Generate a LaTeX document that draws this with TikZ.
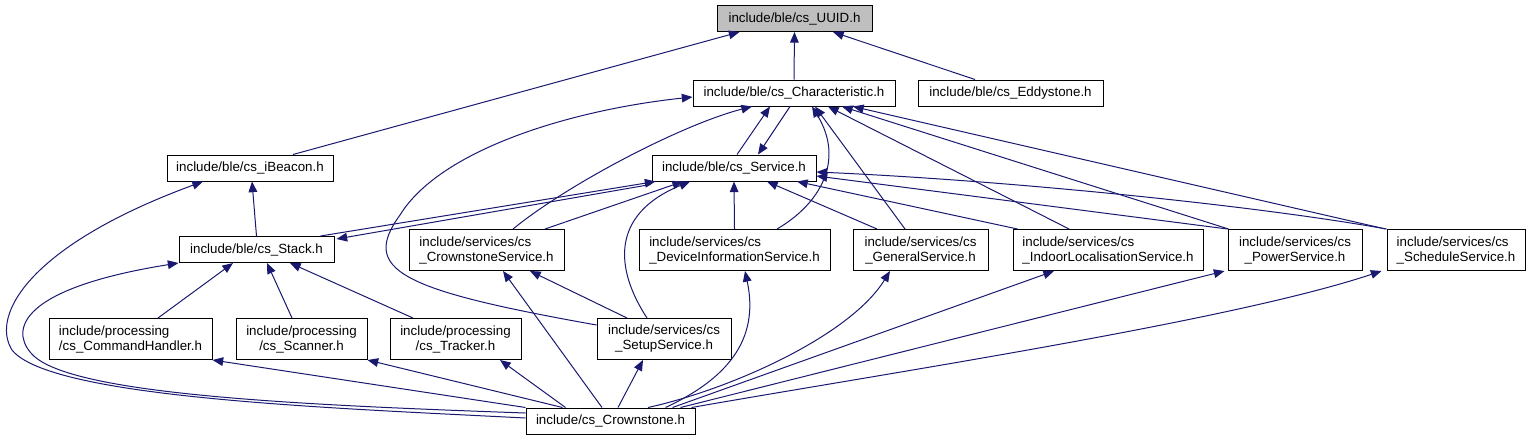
\documentclass[tikz,border=0pt]{standalone}
\usepackage{fontspec}
\setmainfont{Liberation Sans}
\usetikzlibrary{arrows.meta,calc}
\definecolor{incblue}{HTML}{191970}
\definecolor{rootgrey}{HTML}{BFBFBF}

\begin{document}
\begin{tikzpicture}[
  x=0.75pt, y=-0.75pt,
  font=\fontsize{10}{11.25}\selectfont,
  file/.style={draw=black, line width=0.75pt, fill=white, inner sep=0pt, minimum height=19.5pt, minimum width=#1*0.75pt, align=center},
  file2/.style={file=#1, minimum height=30.75pt},
  inc/.style={-{Triangle[length=8pt,width=6.5pt]}, line width=0.75pt, color=incblue},
]
\useasboundingbox (0,0) rectangle (1531,440);
\node[file=155, fill=rootgrey] (uuid) at (794.5,18.5) {include/ble/cs\_UUID.h};
\node[file=202] (charac) at (794,93) {include/ble/cs\_Characteristic.h};
\node[file=185] (eddy) at (1010.5,93) {include/ble/cs\_Eddystone.h};
\node[file=166] (ibeacon) at (250,168) {include/ble/cs\_iBeacon.h};
\node[file=164] (service) at (734,168) {include/ble/cs\_Service.h};
\node[file=155] (stack) at (256.5,249.5) {include/ble/cs\_Stack.h};
\node[file2=155, align=left] (crownsvc) at (486.5,250) {include/services/cs\\\_CrownstoneService.h};
\node[file2=191, align=left] (devinfo) at (734.5,250) {include/services/cs\\\_DeviceInformationService.h};
\node[file2=135] (general) at (920.5,250) {include/services/cs\\\_GeneralService.h};
\node[file2=190, align=left] (indoor) at (1108,250) {include/services/cs\\\_IndoorLocalisationService.h};
\node[file2=134] (power) at (1295,250) {include/services/cs\\\_PowerService.h};
\node[file2=138, align=left] (schedule) at (1456,250) {include/services/cs\\\_ScheduleService.h};
\node[file2=163, align=left] (cmdh) at (130.5,339) {include/processing\\/cs\_CommandHandler.h};
\node[file2=131] (scanner) at (301.5,339) {include/processing\\/cs\_Scanner.h};
\node[file2=131] (tracker) at (455.5,339) {include/processing\\/cs\_Tracker.h};
\node[file2=134] (setup) at (664,339) {include/services/cs\\\_SetupService.h};
\node[file=169] (crown) at (610.5,421) {include/cs\_Crownstone.h};
\draw[inc] (charac.north) -- (uuid.south);
\draw[inc] ($(ibeacon.north)+(43,0)$) -- ($(uuid.south)+(-55,0)$);
\draw[inc] ($(eddy.north)+(-35.5,0)$) -- ($(uuid.south)+(38.5,0)$);
\draw[inc] ($(service.north)+(3,0)$) -- ($(charac.south)+(-24,0)$);
\draw[inc] ($(charac.south)+(-4,0)$) -- ($(service.north)+(24,0)$);
\draw[inc] ($(crownsvc.north)+(26.5,0)$) .. controls +(55,-45) and +(-70,18) .. ($(charac.south)+(-42,0)$);
\draw[inc] ($(devinfo.north)+(42.5,0)$) .. controls +(43,-25) and +(33,54) .. ($(charac.south)+(18,0)$);
\draw[inc] ($(general.north)+(-15.5,0)$) -- ($(charac.south)+(21,0)$);
\draw[inc] ($(indoor.north)+(-39,0)$) -- ($(charac.south)+(34,0)$);
\draw[inc] ($(power.north west)+(1,0)$) -- ($(charac.south)+(48,0)$);
\draw[inc] ($(schedule.north west)+(-1,0)$) -- ($(charac.south)+(59,0)$);
\draw[inc] ($(setup.west)+(0,-14)$) .. controls (400,290) and (360,270) .. (400,215) .. controls (440,150) and (570,110) .. ($(charac.west)+(0,4)$);
\draw[inc] ($(stack.north east)+(-14,0)$) -- ($(service.south west)+(4,0)$);
\draw[inc] ($(service.south west)+(-1,3)$) -- ($(stack.north east)+(2,3)$);
\draw[inc] ($(crownsvc.north)+(58.5,0)$) -- ($(service.south)+(-51,0)$);
\draw[inc] ($(setup.north)+(-17,0)$) .. controls +(-32,-49) and +(-80,33) .. ($(service.south)+(-44,0)$);
\draw[inc] (devinfo.north) -- (service.south);
\draw[inc] ($(general.north)+(-43.5,0)$) -- ($(service.south)+(33,0)$);
\draw[inc] ($(indoor.north west)+(5,0)$) -- ($(service.south)+(63,0)$);
\draw[inc] (power.north west) -- ($(service.east)+(0,8)$);
\draw[inc] (schedule.north west) .. controls +(-137,-24.5) and +(183,8) .. ($(service.east)+(0,4)$);
\draw[inc] ($(setup.north)+(-37,0)$) -- ($(crownsvc.south)+(43.5,0)$);
\draw[inc] (stack.north) -- ($(ibeacon.south)+(2,0)$);
\draw[inc] ($(cmdh.north)+(27.5,0)$) -- ($(stack.south)+(-23.5,0)$);
\draw[inc] ($(scanner.north)+(-9.5,0)$) -- ($(stack.south)+(10.5,0)$);
\draw[inc] ($(tracker.north)+(-42.5,0)$) -- ($(stack.south)+(33.5,0)$);
\draw[inc] ($(crown.west)+(0,-8)$) .. controls (300,405) and (80,395) .. (35,357) .. controls (10,335) and (10,290) .. (stack.south west);
\draw[inc] ($(crown.west)+(0,-3)$) .. controls (330,408) and (50,398) .. (12,350) .. controls (-10,315) and (30,245) .. ($(ibeacon.south)+(-47,0)$);
\draw[inc] (crown.north west) -- (cmdh.south east);
\draw[inc] ($(crown.north)+(-48,0)$) -- (scanner.south east);
\draw[inc] ($(crown.north)+(-45,0)$) -- ($(tracker.south)+(44.5,0)$);
\draw[inc] ($(crown.north)+(-8.5,0)$) -- ($(crownsvc.south)+(16.5,0)$);
\draw[inc] ($(crown.north)+(7.5,0)$) -- ($(setup.south)+(-21,0)$);
\draw[inc] ($(crown.north)+(55,0)$) .. controls +(60,-28) and +(15,70) .. ($(devinfo.south)+(10.5,0)$);
\draw[inc] ($(crown.north)+(37.5,0)$) .. controls +(82,-18) and +(-40,65) .. ($(general.south)+(-30.5,0)$);
\draw[inc] ($(crown.north)+(62,0)$) -- ($(indoor.south)+(-54,0)$);
\draw[inc] ($(crown.north)+(70,0)$) -- ($(power.south west)+(-3,0)$);
\draw[inc] ($(crown.north)+(81,0)$) .. controls +(200,-35) and +(-150,50) .. ($(schedule.south west)+(-5,0)$);
\end{tikzpicture}
\end{document}
